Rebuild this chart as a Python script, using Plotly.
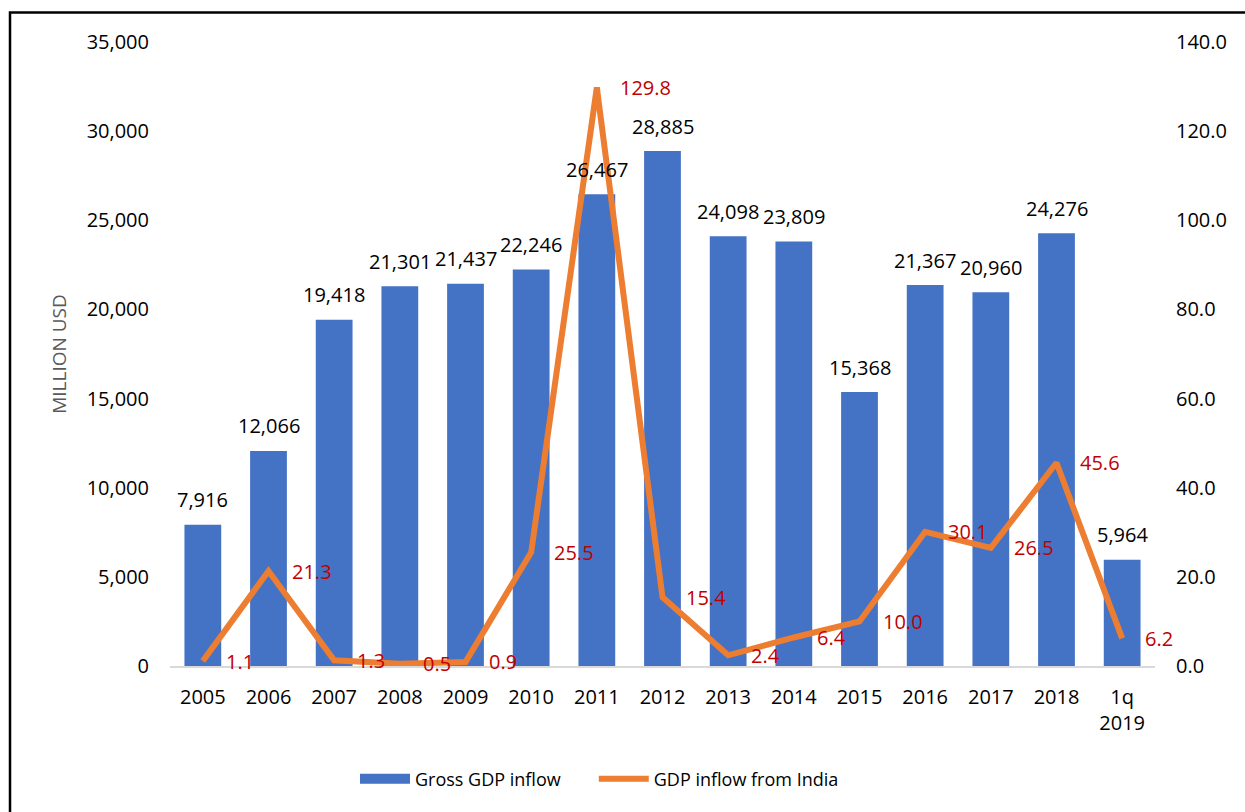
import plotly.graph_objects as go

# Categories and series
years = ["2005", "2006", "2007", "2008", "2009", "2010", "2011", "2012",
         "2013", "2014", "2015", "2016", "2017", "2018", "1q<br>2019"]
gross_inflow = [7916, 12066, 19418, 21301, 21437, 22246, 26467, 28885,
                24098, 23809, 15368, 21367, 20960, 24276, 5964]
india_inflow = [1.1, 21.3, 1.3, 0.5, 0.9, 25.5, 129.8, 15.4,
                2.4, 6.4, 10.0, 30.1, 26.5, 45.6, 6.2]

left_ticks = [0, 5000, 10000, 15000, 20000, 25000, 30000, 35000]
right_ticks = [0, 20, 40, 60, 80, 100, 120, 140]

FONT = "Open Sans"
BLUE = "#4472C4"
ORANGE = "#ED7D31"
RED = "#C00000"

fig = go.Figure()

fig.add_trace(go.Bar(
    x=years, y=gross_inflow, name="Gross GDP inflow",
    marker=dict(color=BLUE, line=dict(width=0)),
    yaxis="y", showlegend=False,
))

# Legend entry for the bars drawn as a wide block; trailing
# non-breaking spaces widen the gap before the next entry
fig.add_trace(go.Scatter(
    x=[None], y=[None], name="Gross GDP inflow" + "\u00a0" * 6,
    mode="lines", line=dict(color=BLUE, width=14),
    yaxis="y", showlegend=True, hoverinfo="skip",
))

fig.add_trace(go.Scatter(
    x=years, y=india_inflow, name="GDP inflow from India",
    mode="lines", line=dict(color=ORANGE, width=6),
    yaxis="y2",
))

annotations = []
# Value labels above the bars (x given as category index)
for i, val in enumerate(gross_inflow):
    annotations.append(dict(
        x=i, y=val, xref="x", yref="y",
        text=f"{val:,}", showarrow=False,
        xanchor="center", yanchor="middle", yshift=25,
        font=dict(family=FONT, size=20, color="#000000"),
    ))
# Value labels to the right of the line points
for i, val in enumerate(india_inflow):
    annotations.append(dict(
        x=i, y=val, xref="x", yref="y2",
        text=f"{val:.1f}", showarrow=False,
        xanchor="left", yanchor="middle", xshift=21,
        font=dict(family=FONT, size=20, color=RED),
    ))

fig.update_layout(
    width=1245, height=812,
    margin=dict(l=170, r=90, t=42, b=146),
    paper_bgcolor="white", plot_bgcolor="white",
    font=dict(family=FONT, size=20, color="#000000"),
    bargap=0.44,
    showlegend=True,
    legend=dict(
        orientation="h", x=(355 - 170) / 985, xanchor="left",
        y=-0.181, yanchor="middle",
        font=dict(family=FONT, size=18, color="#000000"),
        itemwidth=50, tracegroupgap=0,
    ),
    xaxis=dict(
        type="category", range=[-0.5, len(years) - 0.5],
        showgrid=False, zeroline=False,
        showline=True, linecolor="#D9D9D9", linewidth=2,
        ticks="", ticklabelstandoff=12,
        tickfont=dict(family=FONT, size=20, color="#000000"),
    ),
    yaxis=dict(
        range=[0, 35000], tickvals=left_ticks,
        ticktext=[f"{v:,}" for v in left_ticks],
        showgrid=False, zeroline=False, showline=False,
        ticks="", ticklabelstandoff=20,
        tickfont=dict(family=FONT, size=20, color="#000000"),
        title=dict(text="MILLION USD", standoff=14,
                   font=dict(family=FONT, size=19, color="#595959")),
    ),
    yaxis2=dict(
        range=[0, 140], tickvals=right_ticks,
        ticktext=[f"{v:.1f}" for v in right_ticks],
        overlaying="y", side="right",
        showgrid=False, zeroline=False, showline=False,
        ticks="", ticklabelstandoff=20,
        tickfont=dict(family=FONT, size=20, color="#000000"),
    ),
    annotations=annotations,
    shapes=[dict(
        type="rect", xref="paper", yref="paper",
        x0=(10 - 170) / 985, x1=(1260 - 170) / 985,
        y0=(666 - 830) / 624, y1=(666 - 12.5) / 624,
        line=dict(color="#000000", width=2.5), fillcolor="rgba(0,0,0,0)",
        layer="above",
    )],
)

fig.write_html("out.html")
